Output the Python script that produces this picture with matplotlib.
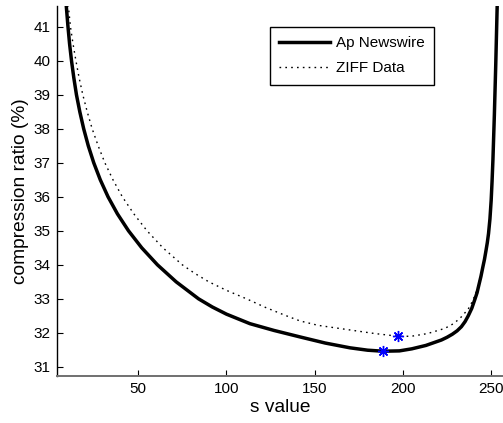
import matplotlib
matplotlib.use("Agg")
import matplotlib.pyplot as plt

plt.rcParams["font.family"] = ["Liberation Sans", "DejaVu Sans"]

# valores (s, ratio %)
ap_s = [8.3, 10.2, 11.1, 12.2, 13.5, 15.0, 16.9, 19.1, 21.7, 24.8, 28.5, 32.9,
        38.2, 44.5, 52.0, 60.9, 71.5, 84.2, 92.0, 100.0, 113.3, 127.0, 141.7,
        156.0, 170.0, 180.0, 188.8, 198.0, 205.0, 213.0, 221.8, 225.0, 228.0,
        230.7, 233.1, 235.2, 237.0, 239.0, 240.6, 242.0, 243.0, 244.2, 245.3,
        246.2, 247.0, 247.8, 248.5, 249.3, 250.0, 250.5, 251.0, 251.8, 252.6,
        253.3, 253.8]
ap_ratio = [42.2, 41.0, 40.5, 40.0, 39.5, 39.0, 38.5, 38.0, 37.5, 37.0, 36.5,
            36.0, 35.5, 35.0, 34.5, 34.0, 33.5, 33.0, 32.76, 32.55, 32.27,
            32.07, 31.88, 31.7, 31.56, 31.49, 31.46, 31.47, 31.53, 31.63, 31.79,
            31.87, 31.96, 32.06, 32.18, 32.33, 32.5, 32.72, 32.96, 33.18, 33.4,
            33.66, 33.94, 34.16, 34.4, 34.65, 34.92, 35.35, 35.9, 36.45, 37.1,
            38.4, 39.9, 41.4, 42.4]

ziff_s = [9.6, 10.4, 11.6, 13.05, 14.7, 16.5, 18.6, 21.1, 23.9, 27.3, 31.1,
          35.7, 41.0, 47.5, 55.0, 64.0, 75.0, 82.0, 90.0, 100.0, 111.4, 122.0,
          133.0, 141.7, 152.0, 168.0, 184.0, 197.3, 204.8, 214.0, 223.7, 229.0,
          233.1, 237.0, 239.7, 241.5, 243.0, 244.2, 245.3, 246.2, 247.0, 247.8,
          248.5, 249.3, 250.0, 250.5, 251.0, 251.8, 252.6, 253.3, 253.8]
ziff_ratio = [42.0, 41.61, 41.0, 40.5, 40.0, 39.5, 39.0, 38.5, 38.0, 37.5, 37.0,
              36.5, 36.0, 35.5, 35.0, 34.5, 34.0, 33.75, 33.5, 33.25, 33.0, 32.75,
              32.52, 32.35, 32.22, 32.1, 31.98, 31.9, 31.9, 31.98, 32.13, 32.28,
              32.47, 32.7, 32.96, 33.2, 33.45, 33.7, 33.94, 34.16, 34.4, 34.65,
              34.92, 35.35, 35.9, 36.45, 37.1, 38.4, 39.9, 41.4, 42.4]

# minimos marcados
min_s = [188.8, 197.3]
min_ratio = [31.46, 31.90]

x_ticks = [50, 100, 150, 200, 250]
y_ticks = [31, 32, 33, 34, 35, 36, 37, 38, 39, 40, 41]

fig = plt.figure(figsize=(5.03, 4.23), dpi=100)
ax = fig.add_axes([0.1127, 0.1118, 0.8873, 0.874])

ax.plot(ap_s, ap_ratio, color="black", linewidth=2.5, label="Ap Newswire",
        solid_joinstyle="round")
ax.plot(ziff_s, ziff_ratio, color="black", linewidth=1.0,
        linestyle=(0, (1.2, 3.0)), label="ZIFF Data")
ax.plot(min_s, min_ratio, linestyle="none", marker=(8, 2, 0), markersize=8,
        markeredgewidth=1.0, color="blue")

ax.set_xlim(3.8, 256.7)
ax.set_ylim(30.74, 41.61)
ax.set_xticks(x_ticks)
ax.set_yticks(y_ticks)
ax.tick_params(direction="in", length=4, width=0.8, labelsize=11, pad=4.7)

ax.spines["top"].set_visible(False)
ax.spines["right"].set_visible(False)
ax.spines["left"].set_linewidth(1.0)
ax.spines["bottom"].set_linewidth(1.4)
ax.spines["bottom"].set_color("#707070")

ax.set_xlabel("s value", fontsize=13.8, labelpad=2)
ax.set_ylabel("compression ratio (%)", fontsize=13.8, labelpad=3)

leg = ax.legend(loc="upper left", bbox_to_anchor=(0.478, 0.944), borderaxespad=0,
                fontsize=11, handlelength=3.3, handletextpad=0.4,
                labelspacing=0.75, borderpad=0.6, fancybox=False,
                framealpha=1, edgecolor="black")
leg.get_frame().set_linewidth(1.0)

fig.savefig("out.png", dpi=100)
plt.close(fig)
